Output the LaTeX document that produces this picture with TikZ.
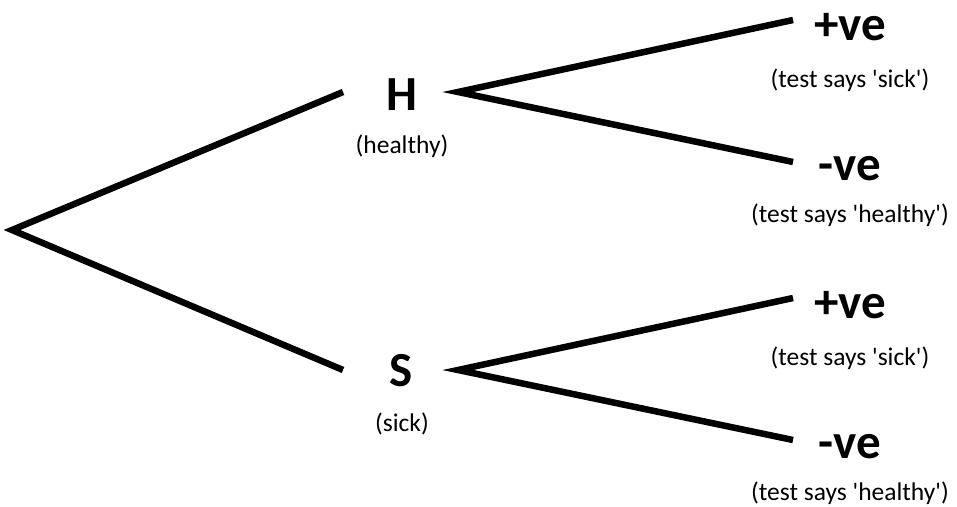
\documentclass[tikz,border=0pt]{standalone}
\usepackage{fontspec}
\setmainfont{Carlito}
\newcommand{\apos}{\textquotesingle}
\begin{document}
\begin{tikzpicture}[x=1pt,y=-1pt,
  big/.style={font=\fontsize{49}{49}\selectfont\bfseries, anchor=base, inner sep=0pt},
  captxt/.style={font=\fontsize{25.5}{26}\selectfont, anchor=base, inner sep=0pt},
  branch/.style={line width=6.5pt, line join=miter}]
\useasboundingbox (0,0) rectangle (957,506);
% root and end points
\coordinate (root) at (12,230);
\coordinate (hin) at (343,92);
\coordinate (sin) at (343,370);
\coordinate (hout) at (458,92);
\coordinate (sout) at (458,370);
\coordinate (hp) at (793,20);
\coordinate (hn) at (793,162);
\coordinate (sp) at (793,298);
\coordinate (sn) at (793,440);
% labels
\node[big] (H) at (402,110) {H};
\node[captxt] (Hc) at (402,153) {(healthy)};
\node[big] (S) at (401,386) {S};
\node[captxt] (Sc) at (402,431) {(sick)};
\node[big] (HP) at (850,40) {+ve};
\node[captxt] (HPc) at (850,87) {(test says \apos sick\apos)};
\node[big] (HN) at (850,180) {-ve};
\node[captxt] (HNc) at (850,222) {(test says \apos healthy\apos)};
\node[big] (SP) at (850,318) {+ve};
\node[captxt] (SPc) at (850,365) {(test says \apos sick\apos)};
\node[big] (SN) at (850,458) {-ve};
\node[captxt] (SNc) at (850,500) {(test says \apos healthy\apos)};
% branches
\draw[branch] (hin) -- (root) -- (sin);
\draw[branch] (hp) -- (hout) -- (hn);
\draw[branch] (sp) -- (sout) -- (sn);
\end{tikzpicture}
\end{document}
